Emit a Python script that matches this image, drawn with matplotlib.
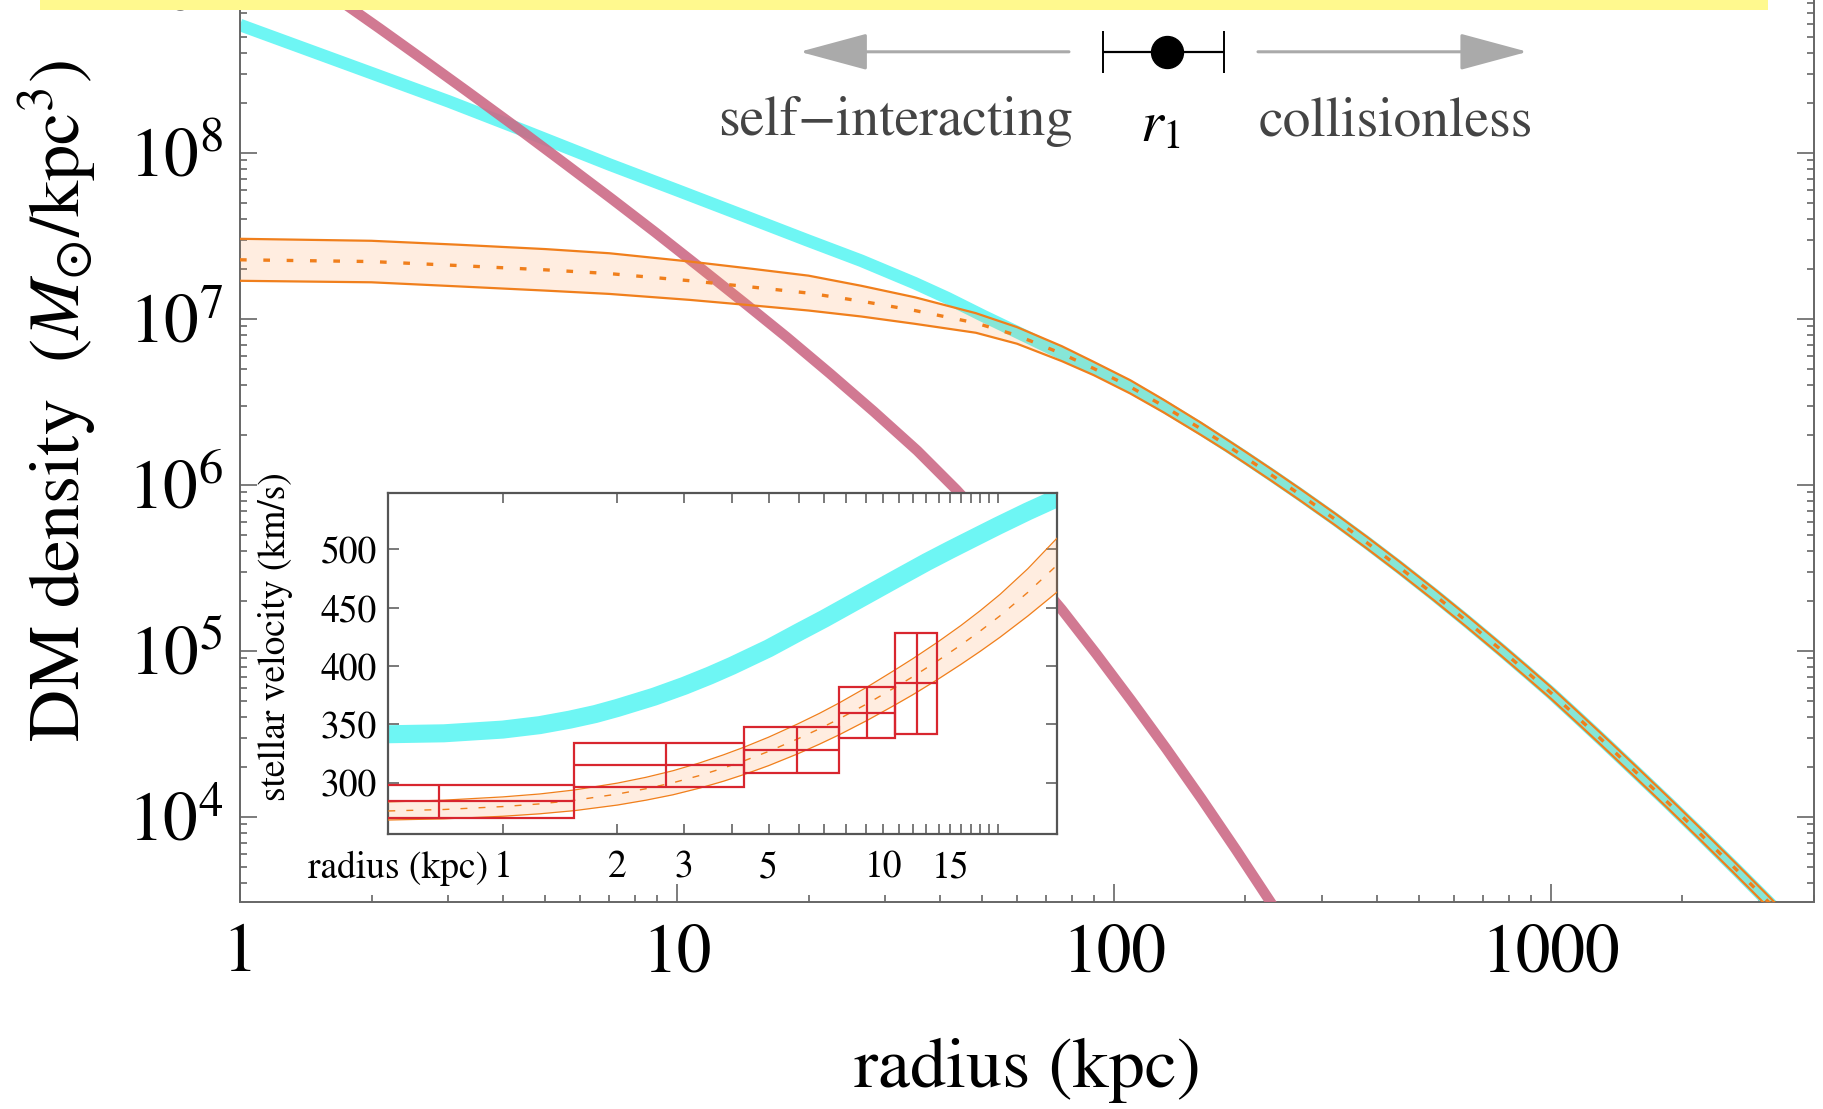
import matplotlib
matplotlib.use("Agg")
import numpy as np
import matplotlib.pyplot as plt
from matplotlib.patches import Rectangle
from matplotlib.ticker import FixedLocator, FixedFormatter, NullFormatter, LogLocator, LogFormatterMathtext

plt.rcParams['font.family'] = ['STIXGeneral', 'DejaVu Serif']
plt.rcParams['mathtext.fontset'] = 'stix'

# ---------------- main panel: DM density profiles ----------------
# collisionless (NFW-like) halo, log10 density in M_sun/kpc^3
r_halo = [1, 2, 3, 4.5, 7, 10, 14.4, 20, 26.4, 35, 41.6, 50, 60, 76, 90, 109,
          130, 158, 180, 200, 230, 267, 320, 379, 450, 540, 640, 768, 870, 1000,
          1150, 1300, 1550, 1854, 2200, 2636, 3055, 3500, 4000]
logrho_collisionless = [8.77, 8.48, 8.31, 8.13, 7.93, 7.775, 7.615, 7.47, 7.35, 7.215,
                        7.125, 7.02, 6.92, 6.79, 6.70, 6.59,
                        6.474, 6.338, 6.243, 6.164, 6.057, 5.94, 5.794, 5.652, 5.503,
                        5.339, 5.181, 5.007, 4.885, 4.747, 4.60, 4.47, 4.28, 4.085,
                        3.895, 3.691, 3.522, 3.364, 3.207]

# self-interacting fit: upper / lower edges of the band
r_band = [1, 2, 3.18, 5, 7, 10.7, 15, 20, 26.4, 35, 48.3, 60, 76, 90, 109,
          130, 158, 180, 200, 230, 267, 320, 379, 450, 540, 640, 768, 870, 1000,
          1150, 1300, 1550, 1854, 2200, 2636, 3055, 3500, 4000]
logrho_band_hi = [7.482, 7.47, 7.446, 7.42, 7.395, 7.345, 7.30, 7.26, 7.199, 7.13,
                  7.034, 6.95, 6.835, 6.74, 6.63,
                  6.512, 6.375, 6.278, 6.199, 6.092, 5.975, 5.829, 5.687, 5.538,
                  5.374, 5.216, 5.042, 4.92, 4.782, 4.635, 4.505, 4.315, 4.12,
                  3.93, 3.726, 3.557, 3.399, 3.242]
logrho_band_lo = [7.229, 7.22, 7.195, 7.17, 7.15, 7.114, 7.08, 7.05, 7.014, 6.97,
                  6.916, 6.85, 6.745, 6.66, 6.55,
                  6.436, 6.301, 6.208, 6.129, 6.022, 5.905, 5.759, 5.617, 5.468,
                  5.304, 5.146, 4.972, 4.85, 4.712, 4.565, 4.435, 4.245, 4.05,
                  3.86, 3.656, 3.487, 3.329, 3.172]

# stellar density
r_stars = [1.0, 1.26, 1.67, 2.09, 2.63, 3.31, 4.49, 5.62, 7.08, 8.91, 11.2, 14.4,
           17.8, 22.4, 28.2, 35.5, 43.6, 52.5, 63.1, 75.9, 91.2, 109.6, 131.8,
           158.5, 190.5, 229.1, 263.0]
logrho_stars = [9.34, 9.156, 8.928, 8.748, 8.560, 8.370, 8.115, 7.923, 7.724, 7.522,
                7.316, 7.087, 6.891, 6.670, 6.442, 6.205, 5.97, 5.74, 5.50, 5.25,
                4.98, 4.70, 4.41, 4.11, 3.80, 3.48, 3.235]

# r_1 estimate with its range
r1_value = 132
r1_low, r1_high = 94.4, 178.6

# ---------------- inset: stellar velocity dispersion ----------------
r_vel = [0.5, 0.7, 1.0, 1.25, 1.5, 1.75, 2.0, 2.5, 3.0, 3.5, 4.0, 5.0, 6.0, 7.0,
         8.0, 9.5, 11, 13, 15, 17.5, 20, 24, 28.7]
vel_collisionless = [341.5, 342.3, 345.5, 349.3, 354.0, 358.8, 364.0, 373.7, 383.0,
                     391.8, 400.1, 415.1, 429.0, 440.5, 451.0, 464.5, 476.0, 489.0,
                     499.5, 510.5, 520.0, 532.5, 544.0]

r_vel_band = [0.5, 0.7, 1.0, 1.25, 1.54, 2.0, 2.38, 2.8, 3.29, 3.8, 4.3, 5.0, 5.95,
              6.8, 7.66, 9.08, 10.73, 12, 13.87, 16, 18, 20.3, 24, 28.7]
vel_band_hi = [283.5, 285.0, 287.8, 290.3, 293.7, 299.6, 304.6, 310.2, 316.9, 323.8,
               330.3, 339.0, 350.2, 359.4, 368.3, 382.0, 396.5, 406.5, 420.2, 434.6,
               447.4, 461.4, 483.3, 509.8]
vel_band_lo = [268.0, 269.0, 271.2, 273.3, 276.0, 280.8, 285.0, 289.6, 295.3, 301.2,
               306.9, 314.6, 324.6, 333.0, 341.0, 353.4, 366.5, 375.6, 388.2, 401.3,
               412.6, 424.7, 442.8, 463.5]

bin_edges = [0.3, 1.54, 4.30, 7.66, 10.73, 13.87]
bin_centers = [0.68, 2.68, 5.95, 9.08, 12.24]
vel_data = [284, 315, 328, 360, 385]
vel_err = [14, 18.6, 20, 21.7, 43]

# ---------------- figure ----------------
W, H = 1824, 1109
fig = plt.figure(figsize=(W / 100, H / 100), dpi=100)

ax = fig.add_axes([240 / W, 1 - 901.5 / H, 1574 / W, 964.5 / H])
ax.set_xscale('log')
ax.set_yscale('log')
ax.set_xlim(1, 4000)
ax.set_ylim(10 ** 3.49, 10 ** 9.3)

cyan = '#6ef6f4'
orange = '#f07f1c'

ax.plot(r_halo, 10 ** np.array(logrho_collisionless), color=cyan, lw=9,
        solid_capstyle='butt', solid_joinstyle='round', zorder=2)
ax.plot(r_stars, 10 ** np.array(logrho_stars), color='#cc6a86', lw=7.5,
        alpha=0.9, solid_capstyle='butt', solid_joinstyle='round', zorder=3)
hi = np.array(logrho_band_hi)
lo = np.array(logrho_band_lo)
ax.fill_between(r_band, 10 ** lo, 10 ** hi, color='#ff9a4a', alpha=0.17, lw=0, zorder=4)
ax.plot(r_band, 10 ** hi, color=orange, lw=1.6, zorder=5)
ax.plot(r_band, 10 ** lo, color=orange, lw=1.6, zorder=5)
ax.plot(r_band, 10 ** ((hi + lo) / 2), color=orange, lw=2.4, dashes=(2.0, 5.0), zorder=5)

# axes styling
for side in ['left', 'right', 'bottom']:
    ax.spines[side].set_color('#666666')
    ax.spines[side].set_linewidth(1.4)
ax.spines['top'].set_visible(False)

ax.xaxis.set_major_locator(FixedLocator([1, 10, 100, 1000]))
ax.xaxis.set_major_formatter(FixedFormatter(['1', '10', '100', '1000']))
ax.xaxis.set_minor_locator(LogLocator(base=10, subs=np.arange(2, 10), numticks=50))
ax.xaxis.set_minor_formatter(NullFormatter())
ax.yaxis.set_major_locator(FixedLocator([1e4, 1e5, 1e6, 1e7, 1e8, 1e9]))
ax.yaxis.set_major_formatter(LogFormatterMathtext())
ax.yaxis.set_minor_locator(LogLocator(base=10, subs=np.arange(2, 10), numticks=50))
ax.yaxis.set_minor_formatter(NullFormatter())
ax.tick_params(which='both', direction='in', color='#666666', width=1.2,
               top=False, right=True, labelsize=50)
ax.tick_params(which='major', length=12)
ax.tick_params(which='minor', length=5)
ax.tick_params(axis='x', which='major', length=13, pad=16)
ax.tick_params(axis='y', which='major', pad=12)

fig.text(1027 / W, 1 - 1070 / H, 'radius (kpc)', ha='center', va='center', fontsize=52)
fig.text(58 / W, 1 - 401 / H, r'DM density  ($M_{\odot}$/kpc$^3$)', ha='center',
         va='center', rotation=90, fontsize=52)

# r_1 marker with arrows
y_mark = 4.06e8
arrow_kw = dict(arrowstyle='-|>,head_length=2.15,head_width=0.58', color='#aaaaaa',
                lw=2.2, mutation_scale=20, shrinkA=0, shrinkB=0)
ax.annotate('', xy=(19.1, y_mark), xytext=(78.9, y_mark), arrowprops=arrow_kw, zorder=6)
ax.annotate('', xy=(884, y_mark), xytext=(213.6, y_mark), arrowprops=arrow_kw, zorder=6)
ax.errorbar([r1_value], [y_mark], xerr=[[r1_value - r1_low], [r1_high - r1_value]],
            fmt='o', color='black', ms=23, capsize=14.8, capthick=1.4, elinewidth=1.6, zorder=7)
ax.text(31.7, 1.54e8, 'self\u2212interacting', ha='center', va='center',
        fontsize=40, color='#444444', zorder=7)
ax.text(128, 1.42e8, r'$r_1$', ha='center', va='center', fontsize=42, color='black', zorder=7)
ax.text(442, 1.54e8, 'collisionless', ha='center', va='center', fontsize=40,
        color='#444444', zorder=7)

# ---------------- inset ----------------
axi = fig.add_axes([388.3 / W, 1 - 834 / H, 669 / W, 340.7 / H])
axi.set_facecolor('white')
axi.set_xscale('log')
axi.set_xlim(0.5, 28.7)
axi.set_ylim(256, 548)

axi.plot(r_vel, vel_collisionless, color=cyan, lw=13, solid_capstyle='butt',
         solid_joinstyle='round', zorder=2)
vhi = np.array(vel_band_hi)
vlo = np.array(vel_band_lo)
axi.fill_between(r_vel_band, vlo, vhi, color='#ff9a4a', alpha=0.17, lw=0, zorder=3)
axi.plot(r_vel_band, vhi, color=orange, lw=0.9, zorder=4)
axi.plot(r_vel_band, vlo, color=orange, lw=0.9, zorder=4)
axi.plot(r_vel_band, (vhi + vlo) / 2, color=orange, lw=1.0, dashes=(5, 8), zorder=4)

box_color = '#d8262f'
for i in range(len(vel_data)):
    x0, x1 = bin_edges[i], bin_edges[i + 1]
    v, e = vel_data[i], vel_err[i]
    axi.add_patch(Rectangle((x0, v - e), x1 - x0, 2 * e, fill=False,
                            edgecolor=box_color, lw=1.6, zorder=5))
    axi.hlines(v, x0, x1, color=box_color, lw=1.6, zorder=5)
    axi.vlines(bin_centers[i], v - e, v + e, color=box_color, lw=1.6, zorder=5)

for side in ['left', 'right', 'bottom', 'top']:
    axi.spines[side].set_color('#555555')
    axi.spines[side].set_linewidth(1.6)

xt = list(range(1, 21))
xl = [str(t) if t in (1, 2, 3, 5, 10, 15) else '' for t in xt]
axi.xaxis.set_major_locator(FixedLocator(xt))
axi.xaxis.set_major_formatter(FixedFormatter(xl))
axi.xaxis.set_minor_locator(FixedLocator([]))
axi.yaxis.set_major_locator(FixedLocator([300, 350, 400, 450, 500]))
axi.tick_params(which='major', direction='in', color='#555555', width=1.1,
                top=True, right=True, labelsize=27)
axi.tick_params(axis='x', length=7, pad=12)
axi.tick_params(axis='y', length=8, pad=8)

fig.text(488 / W, 1 - 868 / H, 'radius (kpc)', ha='right', va='center', fontsize=27)
fig.text(276 / W, 1 - 637 / H, 'stellar velocity (km/s)', ha='center', va='center',
         rotation=90, fontsize=27)

# highlight strip across the top edge
fig.add_artist(Rectangle((40 / W, 1 - 9.5 / H), 1728 / W, 12 / H, transform=fig.transFigure,
                         facecolor='#fff98e', edgecolor='none', zorder=20))

fig.savefig('out.png', dpi=100)
